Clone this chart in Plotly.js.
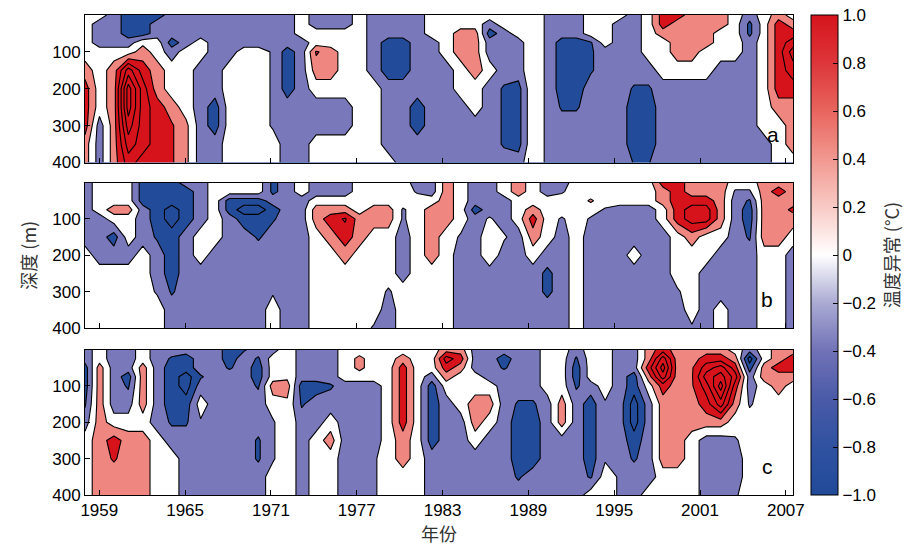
<!DOCTYPE html>
<html>
<head>
<meta charset="utf-8">
<script src="https://cdn.plot.ly/plotly-3.0.1.min.js"></script>
<style>html,body{margin:0;padding:0;background:#fff;}#chart{width:916px;height:546px;}</style>
</head>
<body>
<div id="chart"></div>
<script>
// ---- data (temperature anomaly, °C) ----
const years = [1958,1959,1960,1961,1962,1963,1964,1965,1966,1967,1968,1969,1970,1971,1972,1973,1974,1975,1976,1977,1978,1979,1980,1981,1982,1983,1984,1985,1986,1987,1988,1989,1990,1991,1992,1993,1994,1995,1996,1997,1998,1999,2000,2001,2002,2003,2004,2005,2006,2007];
const depths = [0,25,50,75,100,150,200,250,300,350,400];
const tickYears = [1959,1965,1971,1977,1983,1989,1995,2001,2007];
const depthTicks = [100,200,300,400];
const cbTicks = [-1,-0.8,-0.6,-0.4,-0.2,0,0.2,0.4,0.6,0.8,1];
const cbTickText = ['\u22121.0','\u22120.8','\u22120.6','\u22120.4','\u22120.2','0','0.2','0.4','0.6','0.8','1.0'];
const panelLabels = ['a','b','c'];

const tempA = [
[0,0,-.4,-.8,-.8,-.8,-.4,-.4,-.4,-.4,-.4,-.4,-.4,-.4,-.4,0,-.4,-.4,-.4,0,-.4,-.4,-.4,-.4,0,0,0,0,0,0,0,.15,-.3,-.4,-.4,0,0,0,-.4,0,.8,.8,.4,.4,.4,0,-.4,0,.4,0],
[0,-.4,-.4,-.8,-.8,-.4,-.4,-.4,-.4,-.4,-.4,-.4,-.4,-.4,-.4,0,-.4,-.4,-.4,0,-.4,-.4,-.4,-.4,0,0,0,0,-.4,0,0,.15,-.3,-.4,-.4,0,0,-.4,-.4,0,.8,.4,.4,.4,.4,0,-.7,0,.8,.4],
[0,-.4,-.4,-.8,-.8,-.4,-.4,-.4,-.4,-.4,-.4,-.4,-.4,-.4,-.4,0,0,0,0,0,-.4,-.4,-.4,-.4,0,0,.4,.4,-.8,-.4,0,.15,-.3,-.4,-.4,0,0,-.4,-.4,0,.4,.4,.4,.4,0,0,-.7,0,.8,.8],
[0,-.4,-.4,-.4,.1,0,-.8,-.4,0,-.4,-.4,-.4,-.4,-.4,-.4,-.4,0,0,0,0,-.4,-.8,-.8,-.4,-.4,0,.4,.4,-.4,-.4,-.4,.15,-.3,-.8,-.8,-.65,0,-.4,-.4,0,0,.4,.4,.4,0,0,-.4,0,.8,1.2],
[0,0,0,0,.4,0,-.4,0,0,-.4,-.4,0,0,-.25,-.8,-.4,.65,.4,0,0,-.4,-.8,-.8,-.4,-.4,0,.4,.4,-.4,-.4,-.4,.15,-.3,-.8,-.8,-.65,-.4,-.4,-.4,0,0,.4,.4,0,0,0,-.4,0,.8,1.6],
[.4,0,.4,1.6,.8,.4,0,0,-.4,-.4,0,0,0,-.25,-.8,-.4,.4,.4,0,0,-.4,-.8,-.8,-.4,-.4,-.4,0,.4,0,-.4,-.4,.15,-.3,-.8,-.8,-.65,-.4,-.4,-.4,-.4,0,0,0,0,-.4,-.4,-.4,0,.8,1.2],
[.8,0,.4,2.4,1.2,.4,0,0,-.4,-.4,0,0,0,-.25,-.8,-.4,0,0,0,0,0,-.4,-.4,-.4,-.4,-.4,0,0,-.4,-.65,-.75,.15,-.3,-.8,-.8,-.4,-.4,-.4,-.65,-.65,-.4,-.4,-.4,-.4,-.4,-.4,-.4,0,.8,.8],
[.8,0,.4,2.4,1.2,.8,.4,0,-.4,-.8,0,0,0,-.25,-.4,-.4,-.4,-.4,-.4,0,0,-.4,-.4,-.8,-.4,-.4,-.4,0,-.4,-.65,-.75,.15,-.3,-.65,-.65,-.4,-.4,-.4,-.8,-.8,-.4,-.4,-.4,-.4,-.4,-.4,-.4,0,.4,.4],
[.8,-.4,.4,2,1.2,.8,.65,.3,-.4,-.8,0,0,0,-.25,-.4,-.4,-.4,-.4,-.4,0,0,-.4,-.4,-.8,-.4,-.4,-.4,-.4,-.4,-.65,-.75,.15,-.3,-.4,-.4,-.4,-.4,-.4,-.8,-.8,-.4,-.4,-.4,-.4,-.4,-.4,-.4,0,0,.4],
[.4,-.4,.4,1.6,1.2,.8,.65,.3,-.4,-.4,0,0,0,0,-.4,-.4,0,0,0,0,0,-.4,-.4,-.4,-.4,-.4,-.4,-.4,-.4,-.65,-.75,.15,-.3,-.4,-.4,-.4,-.4,-.4,-.8,-.8,-.4,-.4,-.4,-.4,-.4,-.4,-.4,-.4,0,.4],
[.4,-.4,.4,1.2,.8,.8,.65,.3,-.4,-.4,0,0,0,0,-.4,-.4,0,0,0,0,0,0,-.4,-.4,-.4,-.4,-.4,-.4,-.4,-.4,-.4,.15,-.3,-.4,-.4,-.4,-.4,-.4,-.62,-.62,-.4,-.4,-.4,-.4,-.4,-.4,-.4,-.4,0,0]
];

const tempB = [
[-.4,0,0,0,-.8,-.8,-.8,-.4,-.4,0,0,0,0,-.7,-.4,0,-.4,-.4,-.4,0,0,0,0,-.4,-.4,.4,0,-.4,-.4,0,.4,0,-.4,-.4,0,0,0,0,0,0,.8,.8,.4,.4,.4,0,0,.4,.4,.4],
[-.4,0,0,0,-.8,-.8,-.8,-.8,-.4,0,0,0,0,-.7,-.4,0,-.4,-.4,-.4,0,0,0,0,-.25,-.4,.4,0,-.4,-.4,0,.4,0,-.4,-.25,0,0,0,0,0,0,.4,.8,.4,.4,.4,-.25,-.25,.4,.8,.4],
[-.4,0,0,0,-.8,-.8,-.8,-.8,-.4,0,-.8,-.8,-.8,-.4,-.4,-.4,0,0,0,0,0,0,0,0,0,.4,0,-.4,-.4,-.4,0,0,0,0,0,.25,0,0,0,0,.4,.8,.8,.8,.4,-.4,-.65,.4,.4,.4],
[-.4,0,.4,.4,-.4,-.8,-1.2,-.8,-.4,0,-.8,-1.2,-1.2,-.8,-.4,-.4,.4,.4,.4,0,.4,.4,-.25,0,.4,.4,0,-.8,-.4,-.4,0,.4,0,0,0,0,-.25,-.4,-.4,-.4,0,.8,1.2,1.2,.4,-.4,-.8,.4,.4,.7],
[-.4,-.4,0,0,-.4,-.8,-1.2,-.8,-.4,0,-.4,-.8,-.8,-.65,-.4,-.4,.4,.8,1.05,.4,.4,.4,-.25,0,.4,.4,0,-.4,-.15,-.4,0,.8,0,-.25,0,-.25,-.4,-.4,-.4,-.4,0,.8,1.2,1.2,.4,-.4,-.8,.4,.4,.4],
[-.4,-.4,-.8,0,-.4,-.65,-.8,-.4,0,0,-.4,-.4,-.65,-.4,-.4,-.4,0,.4,.8,.4,0,0,-.4,0,.4,0,-.25,-.4,.1,-.15,-.4,.4,0,-.4,0,-.4,-.4,-.4,-.4,-.4,-.4,0,.4,0,0,-.4,-.65,.4,.4,0],
[0,-.4,-.4,-.4,0,-.4,-.8,-.4,0,-.4,-.4,-.4,-.4,-.4,-.4,-.4,0,0,.4,0,0,0,-.4,0,.4,0,-.4,-.4,.1,-.4,-.4,0,-.4,-.4,0,-.4,-.4,-.4,0,-.4,-.4,0,0,0,-.4,-.4,-.4,0,0,-.4],
[0,0,0,0,0,-.4,-.8,-.4,-.4,-.4,-.4,-.4,-.4,-.4,-.4,-.4,0,0,0,0,0,0,-.4,0,0,0,-.4,-.4,-.4,-.4,-.4,-.4,-.7,-.4,0,-.4,-.4,-.4,-.4,-.4,-.4,0,0,-.4,-.4,-.4,-.4,0,0,-.4],
[0,0,0,0,0,-.25,-.65,-.4,-.4,-.4,-.4,-.4,-.4,-.25,-.4,-.4,0,0,0,0,0,-.25,0,0,0,0,-.4,-.4,-.4,-.4,-.4,-.4,-.7,-.4,0,-.4,-.4,-.4,-.4,-.4,-.4,-.25,0,-.4,-.4,-.4,-.4,0,0,-.4],
[0,0,0,0,0,0,-.4,-.4,-.4,-.4,-.4,-.4,-.4,0,-.4,-.4,0,0,0,0,0,-.4,0,0,0,0,-.4,-.4,-.4,-.4,-.4,-.4,-.4,-.4,0,-.4,-.4,-.4,-.4,-.4,-.4,-.4,0,-.4,0,-.4,-.4,0,0,-.4],
[0,0,0,0,0,0,-.4,-.4,-.4,-.4,-.4,-.4,-.4,0,-.4,-.4,0,0,0,0,-.25,-.4,0,0,0,0,-.4,-.4,-.4,-.4,-.4,-.4,-.4,-.4,0,-.4,-.4,-.4,-.4,-.4,-.4,-.4,-.25,-.4,0,-.4,-.4,0,0,-.4]
];

const tempC = [
[-.4,0,-.4,-.4,0,-.4,-.4,-.4,-.4,-.4,-.8,-.65,-.4,-.4,.1,-.4,-.4,-.4,0,0,0,0,0,0,0,.4,.4,-.4,-.4,-.4,-.4,-.4,0,0,-.4,0,0,-.4,-.4,.4,.8,.4,.4,.4,.4,0,-.4,0,.4,.4],
[-.4,0,-.4,-.4,0,-.4,-.65,-.8,-.4,-.4,-.8,-.4,-.65,0,.1,-.4,-.4,-.4,0,.3,0,0,.4,0,0,1.2,.8,-.4,-.4,-.8,-.4,-.4,0,0,-.65,0,0,-.4,-.4,.4,1.6,.4,.4,.8,.8,.4,-1.2,0,.4,.8],
[-.8,.4,-.4,-.4,.4,-.4,-.8,-.8,-.4,-.4,-.65,-.4,-.8,0,.1,-.4,-.4,-.4,0,.3,0,0,.8,0,0,.8,.4,-.4,-.4,-.65,-.4,-.4,0,0,-.8,0,0,-.4,-.4,.8,2,.4,.55,1.2,1.6,.8,-.8,.4,.8,.8],
[-.8,.4,-.4,-.8,.4,-.4,-.8,-1.2,-.65,-.4,-.4,-.4,-.8,0,.1,-.4,-.4,-.4,0,0,0,0,.8,0,-.4,.4,0,0,-.4,-.4,-.4,-.4,0,0,-.8,0,0,-.4,-.8,.4,1.6,.4,.55,1.6,2,1.2,-.4,.4,.4,.4],
[-.8,.4,-.4,-.65,.4,-.4,-.8,-1.2,-.4,-.4,-.4,-.4,-.65,.4,.4,-.8,-.8,-.65,-.4,-.4,-.4,0,.8,0,-.8,0,0,0,0,-.4,-.4,-.4,0,0,-.65,-.4,0,-.4,-.8,0,.8,.4,.55,1.2,2.4,.8,-.4,0,.4,0],
[-.65,.4,-.4,-.4,.4,-.4,-.8,-.8,0,-.4,-.4,-.4,-.4,0,.1,-.65,-.4,-.4,-.4,-.4,-.4,0,.8,0,-.8,-.4,0,.4,.4,-.4,-.65,-.65,-.4,.4,-.4,-.8,-.25,-.4,-1.2,-.4,.4,.4,.4,.8,1.6,.4,-.25,0,0,0],
[-.4,.4,0,0,0,-.4,-.65,-.65,-.25,-.4,-.4,-.4,-.4,-.25,.1,-.4,-.4,0,-.4,-.4,-.4,0,.8,0,-.8,-.4,-.4,.4,0,-.4,-.8,-.8,-.4,.4,-.4,-.8,-.25,-.4,-1.2,-.4,.4,.4,.4,.4,.4,0,0,0,0,0],
[0,.4,.8,.4,.4,0,-.4,-.4,-.4,-.4,-.4,-.4,-.65,-.25,.1,-.4,0,.4,-.4,-.4,-.4,0,.4,0,-.8,-.4,-.4,0,-.4,-.4,-.8,-.8,-.4,-.4,-.4,-.8,-.25,-.4,-.8,-.4,.4,.4,0,-.4,-.4,-.25,0,0,0,0],
[0,.4,.65,.4,.4,0,0,-.4,-.4,-.4,-.4,-.4,-.65,-.25,.1,-.4,0,0,-.4,-.4,-.25,0,.4,0,-.4,-.4,-.4,-.4,-.4,-.4,-.8,-.8,-.4,-.4,-.4,-.8,-.25,-.4,-.65,-.4,.4,.4,0,-.4,-.4,-.4,0,0,0,0],
[0,.4,.4,.4,.4,0,0,-.4,-.4,-.4,-.4,-.4,-.4,0,.1,-.4,0,0,-.4,-.4,-.25,0,0,0,-.4,-.4,-.4,-.4,-.4,-.4,-.65,-.4,-.4,-.4,-.4,-.65,0,-.25,-.4,-.4,0,0,0,-.4,-.4,-.4,0,0,0,0],
[0,.4,.4,.4,.4,0,0,-.4,-.4,-.4,-.4,-.4,-.4,0,.1,-.4,0,0,-.4,-.4,-.25,0,0,0,-.4,-.4,-.4,-.4,-.4,-.4,-.4,-.4,-.4,-.4,-.4,0,0,-.25,-.4,0,0,0,0,-.4,-.4,-.25,0,0,0,0]
];

// ---- styling ----
const DB = '#224c9a', MB = '#7978ba', WH = '#ffffff', LR = '#f08680', DR = '#d6131a';
// contour levels -1.8 ... 2.2 step 0.4 (11 levels -> 12 bands); colour steps at -0.6, -0.2, 0.2, 0.6
const fillScale = [[0,DB],[3.5/11,DB],[3.5/11,MB],[4.5/11,MB],[4.5/11,WH],[5.5/11,WH],[5.5/11,LR],[6.5/11,LR],[6.5/11,DR],[1,DR]];
const cbScale = [[0,'#214a99'],[0.1,'#2f52a0'],[0.2,'#4a5aa8'],[0.3,'#7172b7'],[0.4,'#aaaad3'],[0.5,'#ffffff'],[0.6,'#f8cac5'],[0.7,'#f19890'],[0.8,'#e8655e'],[0.9,'#dd363a'],[1,'#d5141c']];

// column positions on the year axis (grid stretched to the axis range 1958-2007.5)
const xPos = years.map((y, i) => 1958 + i * 49.5 / 49);

const FONT = 'Liberation Sans, Arial, Helvetica, sans-serif';
const CJK = 'Noto Sans CJK SC, Noto Sans, sans-serif';
const TITLE_COLOR = '#333';

function contourTrace(z, xa, ya) {
  return {
    type: 'contour', x: xPos, y: depths, z: z, xaxis: xa, yaxis: ya,
    autocontour: false,
    contours: {start: -1.8, end: 2.2, size: 0.4, coloring: 'fill', showlines: true},
    line: {color: '#000', width: 1.1, smoothing: 0},
    colorscale: fillScale, zauto: false, zmin: -2.0, zmax: 2.4,
    showscale: false, hoverinfo: 'skip'
  };
}

const data = [
  contourTrace(tempA, 'x', 'y'),
  contourTrace(tempB, 'x2', 'y2'),
  contourTrace(tempC, 'x3', 'y3'),
  {
    type: 'scatter', mode: 'markers', x: [null, null], y: [null, null], xaxis: 'x3', yaxis: 'y3',
    hoverinfo: 'skip', showlegend: false,
    marker: {
      color: [-1, 1], cmin: -1, cmax: 1, colorscale: cbScale, showscale: true, opacity: 0,
      colorbar: {
        x: 1 + 18 / 712, xanchor: 'left', y: 0.5, yanchor: 'middle',
        len: 1, lenmode: 'fraction', thickness: 27, thicknessmode: 'pixels',
        xpad: 0, ypad: 0, outlinewidth: 1, outlinecolor: '#000',
        ticks: 'inside', ticklen: 5, tickcolor: '#000', tickwidth: 1,
        tickvals: cbTicks, ticktext: cbTickText,
        tickfont: {family: FONT, size: 17, color: '#000'},
        title: {text: '温度异常 (°C)', side: 'right', font: {family: CJK, size: 18, color: TITLE_COLOR}}
      }
    }
  }
];

function xAx(anchor, labels) {
  const ax = {
    domain: [0, 1], anchor: anchor, range: [1958, 2007.5],
    tickvals: tickYears, ticktext: tickYears.map(String),
    ticks: 'inside', ticklen: 5, tickcolor: '#000',
    showticklabels: labels, showline: true, mirror: true, linecolor: '#000', linewidth: 1,
    showgrid: false, zeroline: false,
    tickfont: {family: FONT, size: 17, color: '#000'}
  };
  if (labels) ax.title = {text: '年份', font: {family: CJK, size: 18, color: TITLE_COLOR}, standoff: 6};
  return ax;
}
function yAx(anchor, domain, title) {
  const ax = {
    domain: domain, anchor: anchor, range: [400, 0],
    tickvals: depthTicks, ticktext: depthTicks.map(String),
    ticks: 'inside', ticklen: 5, tickcolor: '#000',
    showline: true, mirror: true, linecolor: '#000', linewidth: 1,
    showgrid: false, zeroline: false,
    tickfont: {family: FONT, size: 17, color: '#000'}
  };
  if (title) ax.title = {text: title, font: {family: CJK, size: 18, color: TITLE_COLOR}, standoff: 10};
  return ax;
}

const layout = {
  width: 916, height: 546,
  margin: {l: 85, r: 119, t: 15, b: 51},
  paper_bgcolor: '#fff', plot_bgcolor: '#fff',
  showlegend: false,
  font: {family: FONT, size: 17, color: '#000'},
  xaxis: xAx('y', false),
  xaxis2: xAx('y2', false),
  xaxis3: xAx('y3', true),
  yaxis: yAx('x', [0.6927, 1], null),
  yaxis2: yAx('x2', [0.348, 0.651], '深度 (m)'),
  yaxis3: yAx('x3', [0, 0.303], null),
  annotations: [
    {text: panelLabels[0], xref: 'x domain', yref: 'y domain', x: 0.983, y: 0.098, showarrow: false, font: {family: FONT, size: 21, color: '#000'}},
    {text: panelLabels[1], xref: 'x2 domain', yref: 'y2 domain', x: 0.975, y: 0.103, showarrow: false, font: {family: FONT, size: 21, color: '#000'}},
    {text: panelLabels[2], xref: 'x3 domain', yref: 'y3 domain', x: 0.974, y: 0.103, showarrow: false, font: {family: FONT, size: 21, color: '#000'}}
  ]
};

Plotly.newPlot('chart', data, layout, {displayModeBar: false, staticPlot: true});
</script>
</body>
</html>
